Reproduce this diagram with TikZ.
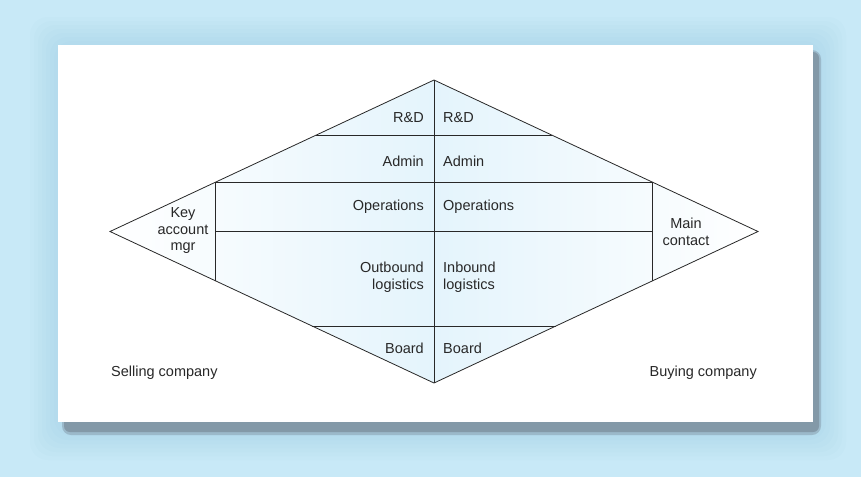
\documentclass[tikz,border=0pt]{standalone}
\usepackage{fontspec}
\setmainfont{Liberation Sans}
\usetikzlibrary{calc, positioning}
\definecolor{bgblue}{RGB}{200, 233, 247}
\definecolor{glowblue}{RGB}{150, 200, 225}
\definecolor{shadowgray}{RGB}{131, 153, 168}
\definecolor{paleblue}{RGB}{228, 244, 252}
\definecolor{inkgray}{RGB}{40, 40, 40}

\begin{document}
\begin{tikzpicture}[x=1pt, y=-1pt,
    lbl/.style={font=\fontsize{14.5}{16.5}\selectfont, inner sep=0pt, text=inkgray},
    edge/.style={draw=inkgray, line width=0.8pt, line join=miter},
    zoneL/.style={left color=white, right color=paleblue},
    zoneR/.style={left color=paleblue, right color=white}]
    % Background and panel
    \useasboundingbox (0,0) rectangle (861,477);
    \fill[bgblue] (0,0) rectangle (861,477);
    \foreach \g in {4,8,...,28}
        \fill[glowblue, opacity=0.06, rounded corners=18] (58-\g,45-\g) rectangle (818+\g,432+\g);
    \fill[shadowgray, opacity=0.5, rounded corners=9] (62,50) rectangle (821,435);
    \fill[shadowgray, rounded corners=6] (64,52) rectangle (819,432);
    \fill[white] (58,45) rectangle (813,422);

    % Diamond corners
    \coordinate (T) at (434,80);
    \coordinate (B) at (434,383);
    \coordinate (L) at (110,231.5);
    \coordinate (R) at (758,231.5);
    \coordinate (a1) at (316.4,135);  \coordinate (b1) at (551.6,135);
    \coordinate (a2) at (215.8,182);  \coordinate (b2) at (652.2,182);
    \coordinate (m1) at (215.8,231.5); \coordinate (m2) at (652.2,231.5);
    \coordinate (a3) at (215.8,281);  \coordinate (b3) at (652.2,281);
    \coordinate (a4) at (312.1,326);  \coordinate (b4) at (555.9,326);

    % Shade both halves
    \shade[zoneL] (L) -- (T) -- (B) -- cycle;
    \shade[zoneR] (T) -- (R) -- (B) -- cycle;

    % Draw outline and dividers
    \draw[edge] (L) -- (T) -- (R) -- (B) -- cycle;
    \draw[edge] (T) -- (B);
    \draw[edge] (a1) -- (b1);
    \draw[edge] (a2) -- (b2);
    \draw[edge] (m1) -- (m2);
    \draw[edge] (a4) -- (b4);
    \draw[edge] (a2) -- (a3);
    \draw[edge] (b2) -- (b3);

    % Selling side labels
    \node[lbl, anchor=east] (rdsell) at (424,118) {R\&D};
    \node[lbl, anchor=east] (adminsell) at (424,161) {Admin};
    \node[lbl, anchor=east] (opssell) at (424,207) {Operations};
    \node[lbl, anchor=east, align=right] (logsell) at (424,277) {Outbound\\logistics};
    \node[lbl, anchor=east] (boardsell) at (424,348) {Board};
    \node[lbl, align=center] (kam) at (183,231) {Key\\account\\mgr};
    \node[lbl, anchor=west] (selling) at (111,373) {Selling company};

    % Buying side labels
    \node[lbl, anchor=west] (rdbuy) at (443,118) {R\&D};
    \node[lbl, anchor=west] (adminbuy) at (443,161) {Admin};
    \node[lbl, anchor=west] (opsbuy) at (443,207) {Operations};
    \node[lbl, anchor=west, align=left] (logbuy) at (443,277) {Inbound\\logistics};
    \node[lbl, anchor=west] (boardbuy) at (443,348) {Board};
    \node[lbl, align=center] (mainc) at (686,232) {Main\\contact};
    \node[lbl, anchor=east] (buying) at (757,373) {Buying company};
\end{tikzpicture}
\end{document}
